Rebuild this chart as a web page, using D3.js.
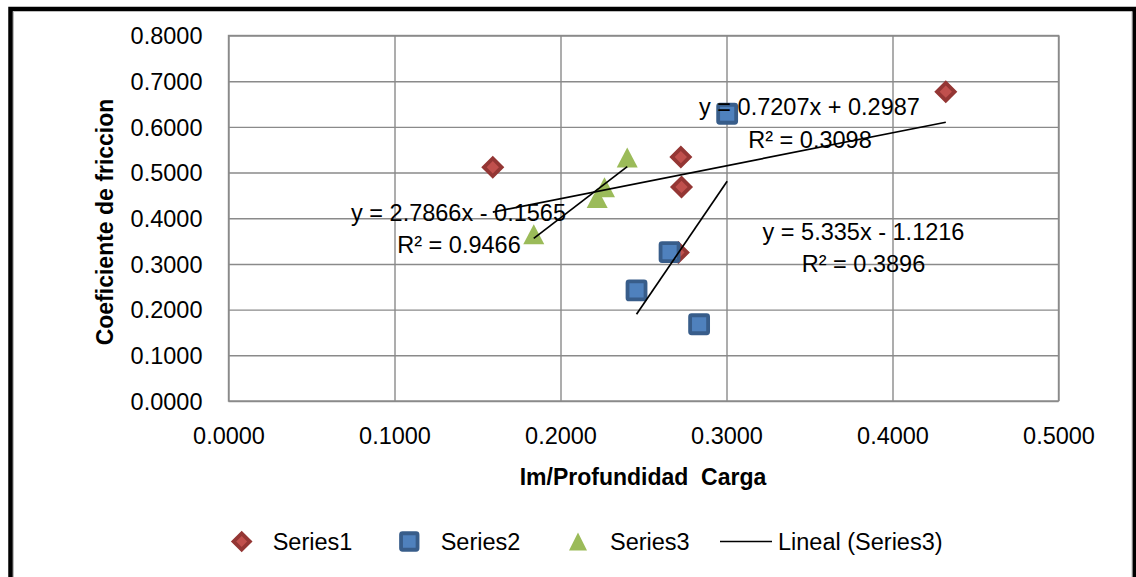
<!DOCTYPE html>
<html>
<head>
<meta charset="utf-8">
<script src="https://cdn.jsdelivr.net/npm/d3@7"></script>
<style>
  html, body { margin: 0; padding: 0; background: #fff; }
  svg { display: block; }
  text { font-family: "Liberation Sans", Arial, sans-serif; fill: #000; }
</style>
</head>
<body>
<svg id="chart" width="1136" height="577"></svg>
<script>
// ---------- data ----------
const seriesNames = ["Series1", "Series2", "Series3"];
const series1X = [0.1592, 0.2725, 0.2729, 0.2710, 0.4321];
const series1Y = [0.5116, 0.5340, 0.4686, 0.3250, 0.6770];
const series2X = [0.3004, 0.2657, 0.2458, 0.2835];
const series2Y = [0.6287, 0.3260, 0.2420, 0.1680];
const series3X = [0.2402, 0.2265, 0.2221, 0.1839];
const series3Y = [0.5330, 0.4678, 0.4445, 0.3648];
const trendSlopes = [0.7207, 5.335, 2.7866];
const trendIntercepts = [0.2987, -1.1216, -0.1565];
const trendR2 = ["0.3098", "0.3896", "0.9466"];
const trendSlopeText = ["0.7207", "5.335", "2.7866"];
const trendInterceptText = ["+ 0.2987", "- 1.1216", "- 0.1565"];
const xTicks = [0, 0.1, 0.2, 0.3, 0.4, 0.5];
const yTicks = [0, 0.1, 0.2, 0.3, 0.4, 0.5, 0.6, 0.7, 0.8];
const xTitle = "Im/Profundidad  Carga";
const yTitle = "Coeficiente de friccion";
const legendLabels = ["Series1", "Series2", "Series3", "Lineal (Series3)"];

// ---------- layout ----------
const svg = d3.select("#chart");
const plot = { left: 228.5, right: 1058.5, top: 35.5, bottom: 401 };
const x = d3.scaleLinear().domain([0, 0.5]).range([plot.left, plot.right]);
const y = d3.scaleLinear().domain([0, 0.8]).range([plot.bottom, plot.top]);
const fontSize = 23.5;
const gridColor = "#8a8a8a";

// outer black frame
svg.append("path")
  .attr("d", `M10.5,577 L10.5,9 L1134.5,9 L1134.5,577`)
  .attr("fill", "none").attr("stroke", "#000").attr("stroke-width", 4.5);
svg.append("path")
  .attr("d", `M13.5,577 L13.5,11.5 L1132,11.5 L1132,577`)
  .attr("fill", "none").attr("stroke", "#bdbdbd").attr("stroke-width", 1);

// gridlines + axes
const xAxis = d3.axisBottom(x).tickValues(xTicks).tickFormat(d3.format(".4f"))
  .tickSizeInner(-(plot.bottom - plot.top)).tickSizeOuter(0);
const gx = svg.append("g").attr("transform", `translate(0,${plot.bottom})`).call(xAxis);
gx.select(".domain").remove();
gx.selectAll(".tick line").attr("stroke", gridColor).attr("stroke-width", 1.4);
gx.selectAll(".tick text").attr("y", 35).attr("dy", "0.35em")
  .style("font-size", fontSize + "px").style("font-family", "Liberation Sans, Arial, sans-serif");

const yAxis = d3.axisLeft(y).tickValues(yTicks).tickFormat(d3.format(".4f"))
  .tickSizeInner(-(plot.right - plot.left)).tickSizeOuter(0);
const gy = svg.append("g").attr("transform", `translate(${plot.left},0)`).call(yAxis);
gy.select(".domain").remove();
gy.selectAll(".tick line").attr("stroke", gridColor).attr("stroke-width", 1.4);
gy.selectAll(".tick text").attr("x", -26).attr("dy", "0.35em")
  .style("font-size", fontSize + "px").style("font-family", "Liberation Sans, Arial, sans-serif");

// plot border
svg.append("rect")
  .attr("x", plot.left).attr("y", plot.top)
  .attr("width", plot.right - plot.left).attr("height", plot.bottom - plot.top)
  .attr("fill", "none").attr("stroke", gridColor).attr("stroke-width", 1.4);

// axis titles
svg.append("text").attr("x", 643).attr("y", 477).attr("dy", "0.35em")
  .attr("text-anchor", "middle").style("font-weight", "bold").style("font-size", "23px")
  .style("white-space", "pre").attr("xml:space", "preserve")
  .text(xTitle);
svg.append("text").attr("transform", "translate(105,222) rotate(-90)").attr("dy", "0.35em")
  .attr("text-anchor", "middle").style("font-weight", "bold").style("font-size", "23px")
  .text(yTitle);

// ---------- markers ----------
const triPath = (w, h) => `M0,${-h / 2}L${w / 2},${h / 2}L${-w / 2},${h / 2}Z`;
function drawDiamond(g, cx, cy, side) {
  g.append("rect").attr("x", -side / 2).attr("y", -side / 2)
    .attr("width", side).attr("height", side)
    .attr("transform", `translate(${cx},${cy}) rotate(45)`)
    .attr("fill", "#c0504d").attr("stroke", "#943634").attr("stroke-width", 3.8);
}
function drawSquare(g, cx, cy, side) {
  g.append("rect").attr("x", cx - side / 2).attr("y", cy - side / 2)
    .attr("width", side).attr("height", side).attr("rx", 1.5)
    .attr("fill", "#4f81bd").attr("stroke", "#385d8a").attr("stroke-width", 3.8)
    .attr("stroke-linejoin", "round");
}
function drawTriangle(g, cx, cy, w, h) {
  g.append("path").attr("d", triPath(w, h))
    .attr("transform", `translate(${cx},${cy})`)
    .attr("fill", "#9bbb59");
}

const gm = svg.append("g");
series1X.forEach((v, i) => drawDiamond(gm, x(v), y(series1Y[i]), 12.5));
series2X.forEach((v, i) => drawSquare(gm, x(v), y(series2Y[i]), 18));
series3X.forEach((v, i) => drawTriangle(gm, x(v), y(series3Y[i]), 21, 20));

// ---------- trendlines ----------
const allX = [series1X, series2X, series3X];
const line = d3.line().x(d => x(d[0])).y(d => y(d[1]));
allX.forEach((xs, i) => {
  const [x0, x1] = d3.extent(xs);
  const pts = [x0, x1].map(v => [v, trendSlopes[i] * v + trendIntercepts[i]]);
  svg.append("path").attr("d", line(pts))
    .attr("fill", "none").attr("stroke", "#000").attr("stroke-width", 1.7);
});

// trendline labels (positions in pixels)
const labelPos = [[809.5, 107, 810, 140], [863.5, 232, 863.5, 264], [458.5, 213, 459, 245]];
labelPos.forEach((p, i) => {
  svg.append("text").attr("x", p[0]).attr("y", p[1]).attr("dy", "0.35em")
    .attr("text-anchor", "middle").style("font-size", fontSize + "px")
    .text(`y = ${trendSlopeText[i]}x ${trendInterceptText[i]}`);
  svg.append("text").attr("x", p[2]).attr("y", p[3]).attr("dy", "0.35em")
    .attr("text-anchor", "middle").style("font-size", fontSize + "px")
    .text(`R² = ${trendR2[i]}`);
});

// ---------- legend ----------
const ly = 541.5;
const gl = svg.append("g");
drawDiamond(gl, 241.7, ly, 11.5);
drawSquare(gl, 409.3, ly, 16.5);
drawTriangle(gl, 578, ly, 18, 18);
gl.append("line").attr("x1", 720).attr("x2", 772).attr("y1", ly).attr("y2", ly)
  .attr("stroke", "#000").attr("stroke-width", 1.7);
const legendTextX = [272.7, 440.7, 610, 778];
legendLabels.forEach((t, i) => {
  gl.append("text").attr("x", legendTextX[i]).attr("y", ly).attr("dy", "0.35em")
    .style("font-size", fontSize + "px").text(t);
});
</script>
</body>
</html>
